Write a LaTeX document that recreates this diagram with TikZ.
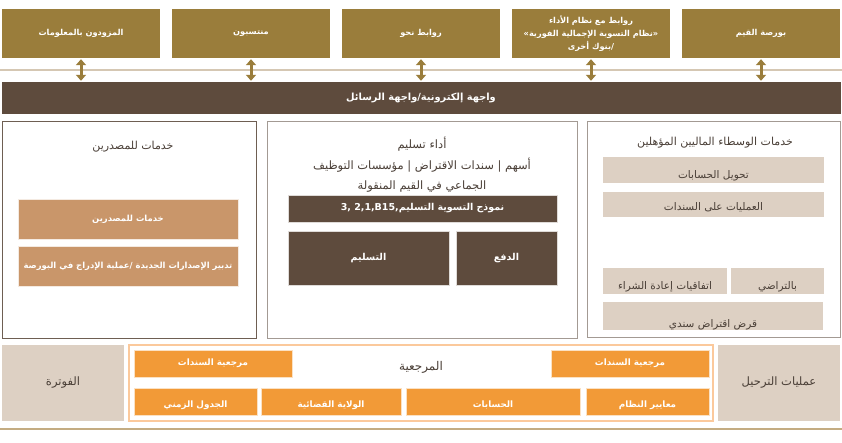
\documentclass[tikz,border=0pt]{standalone}
\usepackage{fontspec}
\usetikzlibrary{arrows.meta}
\TeXXeTstate=1
\newfontfamily\arabicfont[Script=Arabic]{DejaVu Sans}
\setmainfont{DejaVu Sans}
\newcommand\AR[1]{{\arabicfont\beginR #1\endR}}
\definecolor{olive}{HTML}{9A7D3B}
\definecolor{dbrown}{HTML}{5E4B3D}
\definecolor{tanline}{HTML}{D5C7B3}
\definecolor{tanbox}{HTML}{C9966A}
\definecolor{beige}{HTML}{DDD0C3}
\definecolor{orng}{HTML}{F29A37}
\definecolor{orngframe}{HTML}{FBC99C}
\definecolor{panelA}{HTML}{6E5E52}
\definecolor{panelB}{HTML}{A39A93}
\definecolor{botline}{HTML}{C4AC82}
\definecolor{txtdark}{HTML}{4A3F37}
\tikzset{
  x=1pt,y=-1pt,
  base/.style={inner sep=0pt,align=center,font=\fontsize{8}{10}\selectfont},
  topbox/.style={base,fill=olive,text=white,font=\fontsize{8.2}{13}\selectfont\bfseries,minimum width=158pt,minimum height=49pt},
  dblarrow/.style={olive,line width=3pt,{Triangle[width=10pt,length=6pt]}-{Triangle[width=10pt,length=6pt]},shorten <=1pt,shorten >=1pt},
  panel/.style={base,draw=#1,line width=1pt},
  tanbx/.style={base,fill=tanbox,draw=white!80!tanbox,line width=0.8pt,text=white,font=\fontsize{8.4}{10}\selectfont\bfseries},
  darkbx/.style={base,fill=dbrown,draw=white!80!dbrown,line width=0.6pt,text=white,font=\fontsize{9.5}{11}\selectfont\bfseries},
  beigebx/.style={base,fill=beige,text=txtdark,font=\fontsize{10.5}{12}\selectfont},
  orbx/.style={base,fill=orng,draw=white!70!orng,line width=0.8pt,text=white,font=\fontsize{8.8}{10}\selectfont\bfseries},
  ttl/.style={base,text=txtdark,font=\fontsize{11}{20}\selectfont},
  low/.style={text height=#1,text depth=2.5pt},
}
\begin{document}
\begin{tikzpicture}
\useasboundingbox[fill=white] (0,0) rectangle (842,443);
% top boxes
\node[topbox] (t1) at (81,33.5) {\AR{المزودون بالمعلومات}};
\node[topbox] (t2) at (251,33.5) {\AR{منتسبون}};
\node[topbox] (t3) at (421,33.5) {\AR{روابط نحو}};
\node[topbox] (t4) at (591,33.5) {\AR{روابط مع نظام الأداء}\\\AR{«نظام التسوية الإجمالية الفورية»}\\\AR{/بنوك أخرى}};
\node[topbox] (t5) at (761,33.5) {\AR{بورصة القيم}};
% separator line
\coordinate (sl) at (0,70);
\coordinate (sr) at (842,70);
\draw[tanline,line width=2.5pt] (sl) -- (sr);
% bar
\node[base,fill=dbrown,text=white,font=\fontsize{9.8}{11}\selectfont\bfseries,minimum width=839pt,minimum height=32pt] (bar) at (421,98) {\AR{واجهة إلكترونية/واجهة الرسائل}};
\foreach \i in {1,...,5}{\draw[dblarrow] (t\i.south) -- (t\i.south |- bar.north);}
% panels
\node[panel=panelA,minimum width=254pt,minimum height=216pt] (pl) at (129,230) {};
\node[panel=panelB,minimum width=310pt,minimum height=216pt] (pm) at (422,230) {};
\node[panel=panelB,minimum width=253pt,minimum height=215pt] (pr) at (713.5,229.5) {};
% left panel
\node[ttl] (plt) at (133,147) {\AR{خدمات للمصدرين}};
\node[tanbx,minimum width=220pt,minimum height=40pt] (l1) at (128,219) {\AR{خدمات للمصدرين}};
\node[tanbx,minimum width=220pt,minimum height=40pt] (l2) at (128,266) {\AR{تدبير الإصدارات الجديدة /عملية الإدراج في البورصة}};
% middle panel
\node[ttl,font=\fontsize{11.5}{20.5}\selectfont] (pmt) at (422,165) {\AR{أداء تسليم}\\\AR{أسهم | سندات الاقتراض  | مؤسسات التوظيف}\\\AR{الجماعي في القيم المنقولة}};
\node[darkbx,minimum width=269pt,minimum height=27pt] (m1) at (422.5,208.5) {3, 2,1,B15,\AR{نموذج التسوية التسليم}};
\node[darkbx,minimum width=161pt,minimum height=54pt] (m2) at (368.5,258) {\AR{التسليم}};
\node[darkbx,minimum width=101pt,minimum height=54pt] (m3) at (506.5,258) {\AR{الدفع}};
% right panel
\node[ttl] (prt) at (715,143) {\AR{خدمات الوسطاء الماليين المؤهلين}};
\node[beigebx,low=20pt,minimum width=221pt,minimum height=26pt] (r1) at (713.5,170) {\AR{تحويل الحسابات}};
\node[beigebx,low=15pt,minimum width=221pt,minimum height=25pt] (r2) at (713.5,204.5) {\AR{العمليات على السندات}};
\node[beigebx,low=20pt,minimum width=124pt,minimum height=26pt] (r3) at (665,281) {\AR{اتفاقيات إعادة الشراء}};
\node[beigebx,low=20pt,minimum width=93pt,minimum height=26pt] (r4) at (777.5,281) {\AR{بالتراضي}};
\node[beigebx,low=25pt,minimum width=220pt,minimum height=26pt] (r5) at (713,316) {\AR{قرض  اقتراض سندي}};
% bottom section
\node[beigebx,font=\fontsize{11.5}{12}\selectfont,minimum width=122pt,minimum height=76pt] (bl) at (63,383) {\AR{الفوترة}};
\node[beigebx,font=\fontsize{11.5}{12}\selectfont,minimum width=122pt,minimum height=76pt] (br) at (779,383) {\AR{عمليات الترحيل}};
\node[base,draw=orngframe,line width=1.5pt,minimum width=584pt,minimum height=76pt] (fr) at (421,383) {};
\node[ttl,font=\fontsize{12}{14}\selectfont] (frt) at (421,367) {\AR{المرجعية}};
\node[orbx,minimum width=158pt,minimum height=27pt] (o1) at (213,363.5) {\AR{مرجعية السندات}};
\node[orbx,minimum width=158pt,minimum height=27pt] (o2) at (630,363.5) {\AR{مرجعية السندات}};
\node[orbx,low=14pt,minimum width=123pt,minimum height=27pt] (o3) at (195.5,401.5) {\AR{الجدول الزمني}};
\node[orbx,low=14pt,minimum width=140pt,minimum height=27pt] (o4) at (331,401.5) {\AR{الولاية القضائية}};
\node[orbx,low=14pt,minimum width=174pt,minimum height=27pt] (o5) at (493,401.5) {\AR{الحسابات}};
\node[orbx,low=14pt,minimum width=123pt,minimum height=27pt] (o6) at (647.5,401.5) {\AR{معايير النظام}};
% bottom line
\coordinate (bll) at (0,429);
\coordinate (blr) at (842,429);
\draw[botline,line width=1.5pt] (bll) -- (blr);
\end{tikzpicture}
\end{document}
